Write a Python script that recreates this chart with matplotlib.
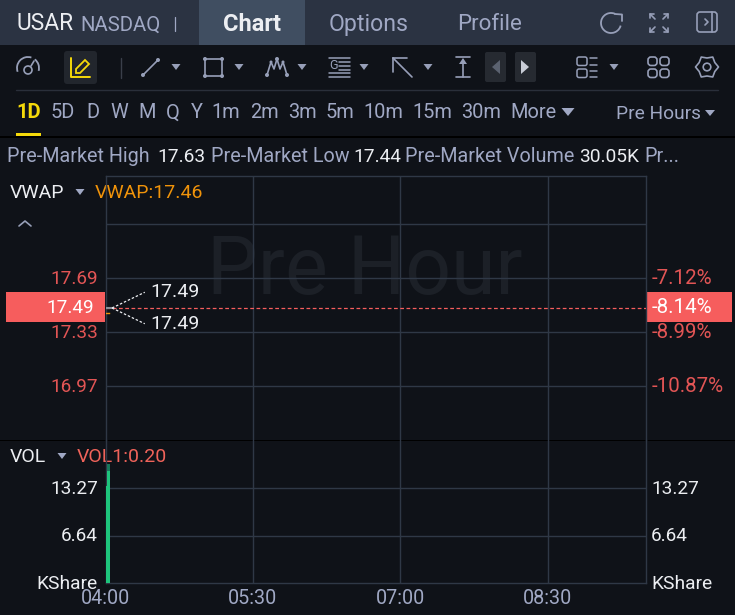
import matplotlib
matplotlib.use("Agg")
import matplotlib.pyplot as plt
import numpy as np
from matplotlib.patches import Rectangle, Polygon, Circle, FancyBboxPatch, Arc

plt.rcParams['font.family'] = ['Roboto', 'DejaVu Sans']

W, H = 735, 615
BG = '#0f1218'
HEAD = '#2b3342'
TAB = '#404e61'
GRID = '#2f3846'
MUTED = '#a0a8c4'
WHITE = '#eceef2'
RED = '#e25555'
SALMON = '#f65d5d'
GREEN = '#1ec47c'
DARKGREEN = '#17785a'
ORANGE = '#f0930a'
YELLOW = '#f5d90a'
ICON = '#979fb8'

# data
minutes_labels = ['04:00', '05:30', '07:00', '08:30']
minutes_ticks = [0, 90, 180, 270]
price_ticks = [18.05, 17.69, 17.33, 16.97]
price_labels = ['17.69', '17.33', '16.97']
pct_labels = ['-7.12%', '-8.99%', '-10.87%']
last_price = 17.49
last_pct = '-8.14%'
vol_ticks = [6.64, 13.27]
vol_labels = ['6.64', '13.27']
vol_minutes = [0.9, 1.8]
vol_values = [13.5, 15.6]
vol_peak = 16.7
vwap_minutes = [0, 2]
vwap_values = [17.46, 17.46]
periods = ['5D', 'D', 'W', 'M', 'Q', 'Y', '1m', '2m', '3m', '5m', '10m', '15m', '30m', 'More']
period_x = [63, 93, 119, 147, 173, 197, 226, 264, 302, 340, 383, 432, 481, 533]

fig = plt.figure(figsize=(W / 100, H / 100), dpi=100, facecolor=BG)

# chrome layer in pixel coordinates
ui = fig.add_axes([0, 0, 1, 1], zorder=0)
ui.set_xlim(0, W)
ui.set_ylim(H, 0)
ui.axis('off')

def T(x, y, s, c=WHITE, size=14, ha='left', va='center', **k):
    return ui.text(x, y + 0.8, s, color=c, fontsize=size, ha=ha, va=va, **k)

def L(xs, ys, c=ICON, lw=1.2, **k):
    ui.plot(xs, ys, color=c, lw=lw, solid_capstyle='round', solid_joinstyle='round', **k)

def tri(x, y, c=MUTED, w=5.5, h=6):
    ui.add_patch(Polygon([[x - w, y - h / 2], [x + w, y - h / 2], [x, y + h / 2]], color=c, lw=0))

def dot(x, y, r=2):
    ui.add_patch(Circle((x, y), r, color=ICON, lw=0))

def rbox(x, y, w, h, r=2, **k):
    ui.add_patch(FancyBboxPatch((x, y), w, h, boxstyle=f'round,pad=0,rounding_size={r}', **k))

# header
ui.add_patch(Rectangle((0, 0), W, 45, color=HEAD, lw=0))
ui.add_patch(Rectangle((199, 0), 106, 45, color=TAB, lw=0))
T(16, 23, 'USAR', WHITE, 16.4)
T(80, 24, 'NASDAQ', MUTED, 14.7)
L([175, 175], [17, 31], MUTED, 0.9)
T(252, 24, 'Chart', WHITE, 17, ha='center', fontweight='bold')
T(369, 24, 'Options', MUTED, 16.6, ha='center')
T(490, 24, 'Profile', MUTED, 16, ha='center')

# header icons
ui.add_patch(Arc((611, 23), 20, 20, theta1=15, theta2=295, color=ICON, lw=1.3))
L([615, 622, 622], [14, 14.5, 21], ICON, 1.3)
for sx, sy in [(-1, -1), (1, -1), (-1, 1), (1, 1)]:
    cx, cy = 659 + sx * 7, 23 + sy * 7
    L([cx - sx * 3, cx + sx * 2], [cy - sy * 3, cy + sy * 2], ICON, 1.2)
    L([cx - sx * 2, cx + sx * 2, cx + sx * 2], [cy + sy * 2, cy + sy * 2, cy - sy * 2], ICON, 1.2)
rbox(697, 12, 20, 20, 3, fill=False, ec=ICON, lw=1.2)
L([712, 712], [12, 32], ICON, 1.2)
L([705, 708, 705], [19, 22, 25], ICON, 1.2)

# toolbar icons
ui.add_patch(Arc((28, 68), 22, 22, theta1=160, theta2=288, color=ICON, lw=1.3))
ui.add_patch(Arc((28, 68), 22, 22, theta1=308, theta2=375, color=ICON, lw=1.3))
ui.add_patch(Circle((28, 70), 4, fill=False, ec=ICON, lw=1.2))
L([31, 34], [66, 61], ICON, 1.2)
rbox(64, 51, 33, 33, 3, color='#22262d', lw=0)
L([71, 71, 90], [58, 77, 77], YELLOW, 1.4)
ui.add_patch(Polygon([[76, 73], [76, 69], [85, 60], [89, 64], [80, 73]], fill=False, ec=YELLOW, lw=1.3))
L([121, 121], [58, 78], '#3a3f4a', 1)
# line tool
L([143, 158], [75, 60], ICON, 1.2)
dot(143, 75); dot(158, 60)
tri(176, 67, ICON, 4.5, 6)
# rect tool
ui.add_patch(Rectangle((205, 59), 17, 17, fill=False, ec=ICON, lw=1.2))
for p in [(205, 59), (222, 59), (205, 76), (222, 76)]:
    dot(*p)
tri(239, 67, ICON, 4.5, 6)
# pattern tool
xs = [267, 271, 274, 277, 280, 283, 287]
ys = [75, 62, 69, 59, 69, 62, 75]
L(xs, ys, ICON, 1.2)
dot(267, 75); dot(277, 59); dot(287, 75); dot(271, 62, 1.5); dot(283, 62, 1.5)
tri(302, 67, ICON, 4.5, 6)
# fib tool
for y in [58, 73, 77]:
    L([329, 350], [y, y], ICON, 1.1)
for y in [62, 66, 70]:
    L([339, 350], [y, y], ICON, 1.1)
T(333.5, 65, 'G', ICON, 9, ha='center')
tri(364, 67, ICON, 4.5, 6)
# arrow tool
L([393, 412], [58, 77], ICON, 1.2)
L([393, 393], [58, 72], ICON, 1.2)
L([393, 407], [58, 58], ICON, 1.2)
tri(428, 67, ICON, 4.5, 6)
# measure tool
L([456, 470], [57, 57], ICON, 1.2)
L([456, 470], [77, 77], ICON, 1.2)
L([463, 463], [60, 77], ICON, 1.2)
ui.add_patch(Polygon([[459, 64], [467, 64], [463, 58]], color=ICON, lw=0))
# nav buttons
rbox(485, 52, 21, 30, 2, color='#262a31', lw=0)
rbox(515, 52, 21, 30, 2, color='#262a31', lw=0)
ui.add_patch(Polygon([[500, 60], [500, 74], [492, 67]], color='#5b6270', lw=0))
ui.add_patch(Polygon([[521, 60], [521, 74], [529, 67]], color='#c8ccd6', lw=0))
# list/grid/settings
for y in [57, 69]:
    rbox(577, y, 10, 8.5, 2, fill=False, ec=ICON, lw=1.1)
for y in [58, 65, 71, 77]:
    L([590, 597], [y, y], ICON, 1.1)
tri(614, 67, ICON, 4.5, 6)
for x, y in [(648, 57), (660, 57), (648, 69), (660, 69)]:
    rbox(x, y, 9, 8.5, 3, fill=False, ec=ICON, lw=1.2)
ang = np.deg2rad(np.arange(0, 360, 30))
rad = np.where(np.arange(12) % 2 == 0, 11.5, 9.0)
ui.add_patch(Polygon(np.c_[707 + rad * np.cos(ang), 67 + rad * np.sin(ang)], fill=False, ec=ICON, lw=1.2, joinstyle='round'))
ui.add_patch(Circle((707, 67), 3.8, fill=False, ec=ICON, lw=1.2))

# separators
L([16, 718], [90, 90], '#2a2f3a', 1)
ui.add_patch(Rectangle((0, 136), W, 2, color='#000000', lw=0))
ui.add_patch(Rectangle((0, 440), W, 1, color='#000000', lw=0))

# period row
T(16, 112, '1D', YELLOW, 14.5, fontweight='bold')
ui.add_patch(Rectangle((16, 133), 25, 3, color=YELLOW, lw=0))
for x, s in zip(period_x, periods):
    T(x, 112, s, MUTED, 14.4, ha='center')
tri(568, 112, MUTED, 6.5, 8)
T(616, 113, 'Pre Hours', MUTED, 13.8)
tri(710, 113, MUTED, 5, 6)

# info row
info = [(7, 'Pre-Market High', MUTED, 14.2), (157, '17.63', WHITE, 13.8), (211, 'Pre-Market Low', MUTED, 14.2),
        (353, '17.44', WHITE, 13.8), (405, 'Pre-Market Volume', MUTED, 14.2), (579, '30.05K', WHITE, 13.8),
        (644, 'Pr...', MUTED, 14.2)]
for x, s, c, z in info:
    T(x, 156, s, c, z)

# price panel
def panel(top, bottom):
    l, r = 105.5, 646
    return fig.add_axes([l / W, 1 - bottom / H, (r - l) / W, (bottom - top) / H], zorder=1)

ax = panel(176, 440)
ax.set_xlim(0, 330)
ax.set_ylim(16.61, 18.37)
ax.patch.set_alpha(0)
for s in ax.spines.values():
    s.set_color(GRID)
    s.set_linewidth(1)
ax.spines['bottom'].set_visible(False)
ax.set_xticks(minutes_ticks[1:])
ax.set_yticks(price_ticks)
ax.tick_params(length=0, labelleft=False, labelbottom=False)
ax.grid(True, color=GRID, lw=1)
ax.set_axisbelow(True)
ax.text(0.48, 0.635, 'Pre Hour', transform=ax.transAxes, ha='center', va='center',
        fontsize=58, color='#1c2027', zorder=0.5)
ax.axhline(last_price, color=SALMON, lw=0.9, ls=(0, (3, 2)), zorder=3)
ax.plot(vwap_minutes, vwap_values, color=ORANGE, lw=1, zorder=4)
ax.plot([0, 4], [last_price, last_price], color='#8a8f98', lw=1.5, zorder=4)
ax.plot([4, 24], [last_price, last_price + 0.105], color=WHITE, lw=0.9, ls=(0, (2, 1.5)), zorder=5)
ax.plot([4, 24], [last_price, last_price - 0.105], color=WHITE, lw=0.9, ls=(0, (2, 1.5)), zorder=5)
ax.text(27.3, last_price + 0.105, f'{last_price:.2f}', color=WHITE, fontsize=14, va='center', zorder=5)
ax.text(27.3, last_price - 0.105, f'{last_price:.2f}', color=WHITE, fontsize=14, va='center', zorder=5)

# price labels
def py(p):
    return 278 + (17.69 - p) * 150

for p, s, q in zip(price_ticks[1:], price_labels, pct_labels):
    T(98, py(p), s, RED, 13.7, ha='right')
    T(652, py(p), q, RED, 14.8)
ui.add_patch(Rectangle((6, 292), 99, 30, color=SALMON, lw=0))
ui.add_patch(Rectangle((647, 292), 85, 30, color=SALMON, lw=0))
T(94, 307, f'{last_price:.2f}', '#ffffff', 13.7, ha='right')
T(652, 307, last_pct, '#ffffff', 14.8)

T(10, 192, 'VWAP', WHITE, 14)
tri(80, 192, MUTED, 4.5, 6)
T(95, 192, 'VWAP:17.46', ORANGE, 14)
L([19, 25, 31], [226, 221, 226], ICON, 1.2)

# volume panel
vx = panel(440, 583)
vx.set_xlim(0, 330)
vx.set_ylim(0, 20)
vx.patch.set_alpha(0)
for s in vx.spines.values():
    s.set_color(GRID)
    s.set_linewidth(1)
vx.spines['top'].set_visible(False)
vx.set_xticks(minutes_ticks[1:])
vx.set_yticks(vol_ticks)
vx.tick_params(length=0, labelleft=False, labelbottom=False)
vx.grid(True, color=GRID, lw=1)
vx.set_axisbelow(True)
vx.bar(vol_minutes[1], vol_peak, width=1.3, color=DARKGREEN, zorder=3)
vx.bar(vol_minutes[1], vol_values[1], width=1.3, color=GREEN, zorder=4)
vx.bar(vol_minutes[0], vol_values[0], width=1.8, color=GREEN, zorder=4)

T(10, 456, 'VOL', WHITE, 14)
tri(62, 456, MUTED, 4.5, 6)
T(77, 456, 'VOL1:0.20', '#f0635a', 14)
for y, s in zip([535, 488], vol_labels):
    T(98, y, s, WHITE, 13.7, ha='right')
    T(651, y, s, WHITE, 13.7)
T(98, 583, 'KShare', WHITE, 13.8, ha='right')
T(651, 583, 'KShare', WHITE, 13.8)
for m, s in zip(minutes_ticks, minutes_labels):
    T(105.5 + m * 540.5 / 330, 598, s, MUTED, 14.2, ha='center')

fig.savefig('out.png', dpi=100, facecolor=BG)
